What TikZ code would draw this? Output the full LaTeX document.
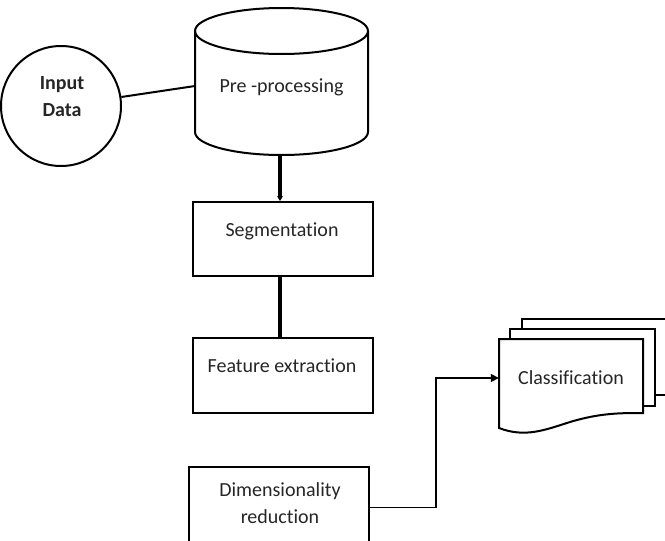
\documentclass[tikz,border=0pt]{standalone}
\usepackage{fontspec}
\setmainfont{Carlito}[Ligatures=NoCommon]
\usetikzlibrary{arrows.meta}
\begin{document}
\begin{tikzpicture}[x=1pt,y=1pt,
  every node/.style={font=\fontsize{20}{27}\selectfont, text=black!85},
  shapeline/.style={draw=black, line width=2pt},
  box/.style={shapeline, rectangle, inner sep=0pt, minimum width=180pt},
  label/.style={inner sep=0pt, align=center},
  thickline/.style={line width=3.2pt},
  link/.style={line width=1.6pt},
]
\useasboundingbox (0,0) rectangle (665,-541);

% input circle
\node[shapeline, circle, minimum size=120pt, inner sep=0pt] (inp) at (61,-106) {};
\node[label, font=\fontsize{20}{27}\selectfont\bfseries] (inpt) at (62,-97) {Input\\Data};

% pre-processing cylinder
\draw[shapeline, fill=white] (195,-31) -- (195,-132)
  arc[start angle=180, end angle=360, x radius=86.5, y radius=23] -- (368,-31);
\draw[shapeline] (281.5,-31) ellipse[x radius=86.5, y radius=23];
\node[label] (pre) at (281.5,-87) {Pre -processing};
\coordinate (preleft) at (195,-86);
\coordinate (prebot) at (280,-155);

% process boxes
\node[box, minimum height=74pt] (seg) at (283,-239) {};
\node[label] (segt) at (282,-231) {Segmentation};
\node[box, minimum height=75pt] (feat) at (283,-375.5) {};
\node[label] (featt) at (282,-366) {Feature extraction};
\node[box, minimum height=81pt] (dim) at (279,-507.5) {};
\node[label] (dimt) at (280,-503.5) {Dimensionality\\reduction};

% classification document stack
\draw[shapeline, fill=white] (522,-319) rectangle (690,-395);
\draw[shapeline, fill=white] (510,-329) rectangle (655,-406);
\draw[shapeline, fill=white] (499,-339) -- (643,-339) -- (643,-413)
  .. controls (620,-413) and (600,-413) .. (570,-422)
  .. controls (545,-430) and (525,-438) .. (499,-428) -- cycle;
\node[inner sep=0pt, minimum width=144pt] (cls) at (571,-378) {Classification};

% connectors
\coordinate (elbow) at (436,-508);
\draw[line width=2pt] (inp) -- (preleft);
\draw[thickline, -{Stealth[length=5pt, width=6pt]}] (prebot) -- (prebot |- seg.north);
\draw[thickline] (prebot |- seg.south) -- (prebot |- feat.north);
\draw[link, -{Triangle[length=8pt, width=8pt]}] (dim.east) -- (dim.east -| elbow) |- (cls.west);
\end{tikzpicture}
\end{document}
